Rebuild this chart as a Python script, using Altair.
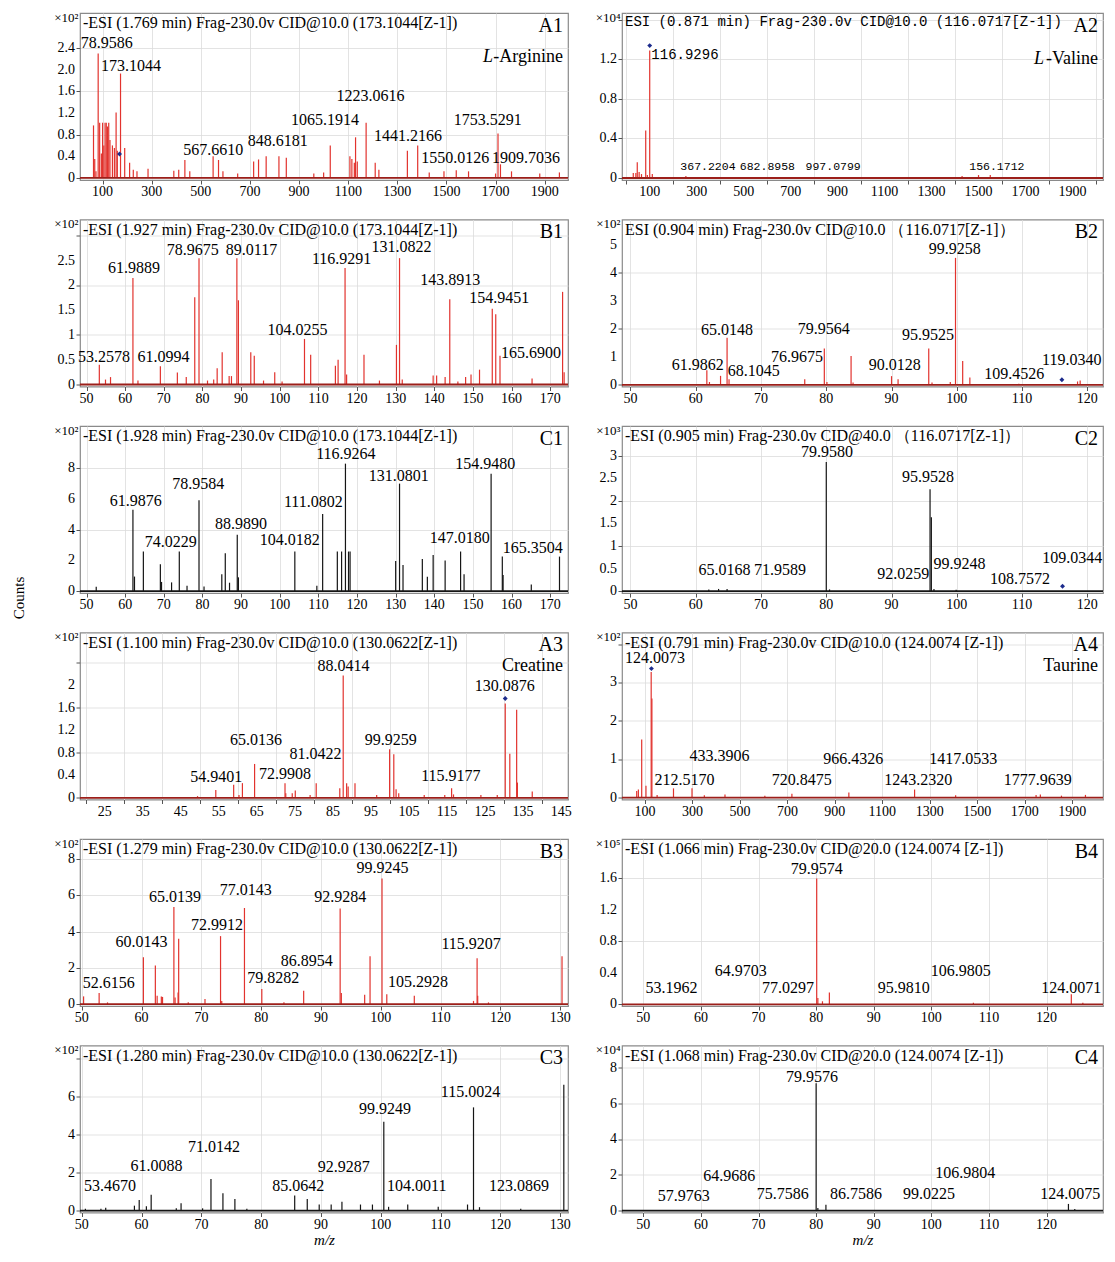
import math
import altair as alt
import pandas as pd

SERIF = "Liberation Serif"
MONO = "Liberation Mono"
RED = "#e2332e"
RED_BASE = "#9c1f1a"
BLACK = "#151515"
BLUE = "#1c2b8c"
GRID = "#dcdcdc"
TICK = "#555555"

# ---------------- data: (m/z, intensity) ----------------
A1_peaks = [(63,0.97),(68,0.35),(73,0.12),(82,2.30),(88,1.02),(95,0.45),(100,1.02),(105,0.60),(110,1.02),(115,1.02),(120,0.95),(125,1.02),(130,0.70),(140,0.60),(148,0.55),(155,1.21),(160,0.50),(173,1.93),(190,0.55),(210,0.28),(225,0.15),(240,0.12),(285,0.17),(390,0.13),(410,0.15),(435,0.33),(455,0.12),(550,0.40),(572,0.33),(590,0.12),(650,0.08),(715,0.30),(735,0.34),(766,0.40),(818,0.40),(848,0.37),(960,0.08),(1000,0.10),(1027,0.60),(1107,0.40),(1115,0.35),(1125,0.28),(1130,0.75),(1137,0.30),(1173,1.02),(1210,0.28),(1225,0.15),(1341,0.50),(1383,0.60),(1430,0.10),(1490,0.12),(1540,0.14),(1590,0.12),(1700,0.08),(1710,0.82),(1720,0.25),(1765,0.12),(1880,0.08),(1960,0.10)]
A1_labels = [("78.9586",117,2.50),("173.1044",216,2.07),("567.6610",551,0.52),("848.6181",813,0.69),("1065.1914",1006,1.07),("1223.0616",1191,1.52),("1441.2166",1344,0.78),("1753.5291",1668,1.07),("1550.0126",1536,0.36),("1909.7036",1824,0.36)]
A1_marker = [(169,0.44)]

A2_peaks = [(30,0.05),(41,0.05),(47,0.16),(55,0.06),(65,0.04),(83,0.48),(90,0.03),(100,1.29),(111,0.04),(254,0.02),(1430,0.02),(1500,0.03),(1550,0.03)]
A2_labels = [("116.9296",250,1.25),("367.2204",348,0.11),("682.8958",601,0.11),("997.0799",881,0.11),("156.1712",1578,0.11)]
A2_marker = [(100,1.34)]

B1_peaks = [(53.3,0.40),(54.9,0.10),(56.2,0.15),(62.0,2.15),(63.3,0.08),(69.1,0.37),(73.5,0.24),(75.8,0.15),(78.0,1.76),(79.1,2.55),(81.3,0.08),(82.9,0.10),(83.8,0.33),(85.1,0.65),(86.9,0.17),(87.5,0.17),(88.9,2.55),(89.3,1.70),(92.5,0.65),(93.4,0.58),(95.8,0.08),(98.7,0.25),(100.6,0.06),(106.4,0.92),(108.0,0.60),(114.4,0.38),(115.1,0.50),(116.9,2.35),(117.3,0.20),(121.8,0.60),(125.8,0.08),(130.2,0.80),(131.0,2.55),(131.7,0.10),(139.7,0.18),(140.6,0.18),(142.8,0.15),(144.0,1.72),(146.1,0.06),(148.1,0.15),(149.5,0.20),(151.7,0.30),(155.0,1.53),(155.9,1.42),(157.0,0.58),(165.3,0.12),(173.2,1.87),(173.6,0.25)]
B1_labels = [("53.2578",54.5,0.56),("61.0994",69.9,0.56),("61.9889",62.3,2.36),("78.9675",77.5,2.72),("89.0117",92.7,2.72),("104.0255",104.6,1.11),("116.9291",116.0,2.53),("131.0822",131.5,2.78),("143.8913",144.1,2.10),("154.9451",156.8,1.74),("165.6900",165.0,0.63)]
B1_marker = []

B2_peaks = [(52,0.03),(61.7,0.52),(62.1,0.10),(63.8,0.32),(64.8,1.68),(65.1,0.20),(76.7,0.20),(79.7,1.30),(80.1,0.10),(83.8,1.03),(84.1,0.08),(90.0,0.31),(91.0,0.20),(95.7,1.30),(96.2,0.08),(99.0,0.10),(99.8,4.53),(100.9,0.85),(102.0,0.26),(109.5,0.04),(118.5,0.12),(118.9,0.15)]
B2_labels = [("65.0148",64.8,1.94),("79.9564",79.6,1.98),("95.9525",95.6,1.78),("99.9258",99.7,4.86),("61.9862",60.3,0.71),("68.1045",68.9,0.50),("76.9675",75.5,1.00),("90.0128",90.5,0.71),("109.4526",108.8,0.38),("119.0340",117.6,0.88)]
B2_marker = [(116.1,0.18)]

C1_peaks = [(52.5,0.28),(62.0,5.30),(62.4,0.95),(64.7,2.58),(69.1,1.75),(69.4,0.60),(72.0,0.57),(74.0,2.58),(76.0,0.35),(79.1,5.92),(80.4,0.30),(85.0,1.10),(85.9,2.47),(87.0,0.55),(89.0,3.67),(89.3,0.90),(103.9,2.58),(109.6,0.35),(111.1,5.03),(114.9,2.58),(116.0,2.58),(117.0,8.30),(117.8,2.58),(118.2,2.58),(130.0,1.97),(131.0,7.00),(131.9,1.70),(136.9,2.10),(138.2,0.94),(139.7,2.36),(142.8,2.00),(146.8,2.58),(147.7,1.10),(154.7,7.65),(157.6,2.25),(157.8,1.05),(165.1,0.44),(172.4,2.25)]
C1_labels = [("61.9876",62.7,5.86),("74.0229",71.8,3.19),("78.9584",78.9,6.95),("88.9890",90.0,4.37),("104.0182",102.6,3.34),("111.0802",108.7,5.79),("116.9264",117.1,8.92),("131.0801",130.8,7.50),("147.0180",146.6,3.45),("154.9480",153.2,8.30),("165.3504",165.5,2.84)]
C1_marker = []

C2_peaks = [(62.0,0.04),(63.5,0.05),(64.8,0.05),(80.0,2.86),(80.5,0.04),(95.9,2.26),(96.1,1.64),(96.5,0.05),(99.9,0.03)]
C2_labels = [("79.9580",80.1,3.08),("95.9528",95.6,2.52),("65.0168",64.4,0.47),("71.9589",72.9,0.47),("92.0259",91.8,0.37),("99.9248",100.4,0.60),("108.7572",109.7,0.27),("109.0344",117.7,0.73)]
C2_marker = [(116.2,0.11)]

A3_peaks = [(49.4,0.03),(54.2,0.14),(58.9,0.23),(60.3,0.05),(61.2,0.26),(64.4,0.60),(72.4,0.26),(72.6,0.08),(74.3,0.08),(75.1,0.13),(79.0,0.05),(80.6,0.26),(86.8,0.17),(87.7,2.17),(88.6,0.26),(89.0,0.20),(90.8,0.26),(96.5,0.05),(99.9,0.86),(101.0,0.77),(101.6,0.15),(102.3,0.08),(109.0,0.05),(114.4,0.05),(116.2,0.17),(116.7,0.06),(123.9,0.05),(128.2,0.05),(130.3,1.67),(131.5,0.78),(133.3,1.56),(133.5,0.27),(137.4,0.11)]
A3_labels = [("88.0414",87.8,2.34),("130.0876",130.2,1.98),("65.0136",64.8,1.02),("81.0422",80.4,0.78),("99.9259",100.2,1.02),("54.9401",54.3,0.37),("72.9908",72.4,0.43),("115.9177",116.0,0.39)]
A3_marker = [(130.3,1.76)]

A4_peaks = [(65,0.17),(72,0.21),(86,1.51),(104,0.31),(126,3.27),(129,2.58),(151,0.07),(220,0.24),(298,0.24),(350,0.06),(437,0.08),(605,0.05),(719,0.10),(959,0.13),(1236,0.21),(1409,0.06),(1748,0.07),(1766,0.08),(1855,0.05),(1956,0.07)]
A4_labels = [("124.0073",142,3.64),("433.3906",414,1.09),("212.5170",266,0.46),("720.8475",761,0.46),("966.4326",977,1.01),("1243.2320",1251,0.46),("1417.0533",1441,1.01),("1777.9639",1755,0.46)]
A4_marker = [(127,3.36)]

B3_peaks = [(50.3,0.43),(52.9,0.61),(54.3,0.10),(60.3,2.59),(62.3,2.13),(62.6,0.46),(63.3,0.43),(63.5,0.40),(65.4,5.36),(65.6,0.37),(66.1,0.65),(66.2,3.60),(67.8,0.10),(70.6,0.28),(73.2,3.75),(73.4,0.18),(77.2,5.30),(80.1,0.83),(83.8,0.10),(87.1,0.74),(93.2,5.27),(93.4,0.61),(97.3,0.52),(98.2,2.64),(100.2,6.93),(101.0,0.55),(105.6,0.46),(115.5,0.18),(116.1,2.53),(116.2,0.46),(118.0,0.10),(130.3,2.64)]
B3_labels = [("52.6156",54.5,1.16),("60.0143",60.0,3.42),("65.0139",65.6,5.91),("72.9912",72.6,4.38),("77.0143",77.4,6.28),("79.8282",82.0,1.42),("86.8954",87.6,2.40),("92.9284",93.2,5.91),("99.9245",100.3,7.49),("105.2928",106.2,1.24),("115.9207",115.1,3.33)]
B3_marker = []

B4_peaks = [(80.1,1.60),(80.3,0.08),(81.1,0.04),(82.3,0.15),(107.3,0.02),(124.3,0.13),(126.3,0.02)]
B4_labels = [("79.9574",80.1,1.72),("64.9703",66.9,0.43),("53.1962",54.9,0.21),("77.0297",75.1,0.21),("95.9810",95.2,0.21),("106.9805",105.1,0.43),("124.0071",124.3,0.21)]
B4_marker = []

C3_peaks = [(50.6,0.10),(53.2,0.10),(54.0,0.15),(58.8,0.26),(59.6,0.56),(60.8,0.23),(61.6,0.84),(65.8,0.12),(66.6,0.39),(70.2,0.12),(71.6,1.67),(73.6,0.91),(75.6,0.61),(77.6,0.10),(85.6,0.79),(87.7,0.61),(89.7,0.32),(91.7,0.32),(93.5,0.47),(96.6,0.32),(98.6,0.32),(100.5,4.68),(101.3,0.20),(104.5,0.32),(109.6,0.20),(114.5,0.32),(115.5,5.44),(116.5,0.18),(123.4,0.10),(130.6,6.63)]
C3_labels = [("53.4670",54.7,1.28),("61.0088",62.5,2.33),("71.0142",72.1,3.33),("85.0642",86.2,1.28),("92.9287",93.8,2.28),("99.9249",100.7,5.35),("104.0011",106.0,1.32),("115.0024",115.0,6.23),("123.0869",123.1,1.28)]
C3_marker = []

C4_peaks = [(80.0,7.14),(80.3,0.15),(81.7,0.34),(123.8,0.38),(124.9,0.10)]
C4_labels = [("79.9576",79.3,7.48),("64.9686",64.9,1.97),("57.9763",57.0,0.85),("75.7586",74.2,0.94),("86.7586",86.9,0.94),("99.0225",99.6,0.94),("106.9804",105.9,2.10),("124.0075",124.1,0.94)]
C4_marker = []

HEADERS = {
    "A1": "-ESI (1.769 min) Frag-230.0v CID@10.0 (173.1044[Z-1])",
    "A2": "ESI  (0.871 min) Frag-230.0v CID@10.0 (116.0717[Z-1])",
    "B1": "-ESI (1.927 min) Frag-230.0v CID@10.0 (173.1044[Z-1])",
    "B2": "ESI (0.904 min) Frag-230.0v CID@10.0 （116.0717[Z-1]）",
    "C1": "-ESI (1.928 min) Frag-230.0v CID@10.0 (173.1044[Z-1])",
    "C2": "-ESI (0.905 min) Frag-230.0v CID@40.0 （116.0717[Z-1]）",
    "A3": "-ESI (1.100 min) Frag-230.0v CID@10.0 (130.0622[Z-1])",
    "A4": "-ESI (0.791 min) Frag-230.0v CID@10.0 (124.0074 [Z-1])",
    "B3": "-ESI (1.279 min) Frag-230.0v CID@10.0 (130.0622[Z-1])",
    "B4": "-ESI (1.066 min) Frag-230.0v CID@20.0 (124.0074 [Z-1])",
    "C3": "-ESI (1.280 min) Frag-230.0v CID@10.0 (130.0622[Z-1])",
    "C4": "-ESI (1.068 min) Frag-230.0v CID@20.0 (124.0074 [Z-1])",
}

LW = 488   # left column plot width
RW = 481   # right column plot width
H = 167    # plot height

# Times-like advance widths (per 1000 em) for placing the italic "L"
TW = {'-': 333, 'A': 722, 'r': 333, 'g': 500, 'i': 278, 'n': 500, 'e': 444, 'V': 722, 'a': 444, 'l': 278}


def frange(start, stop, step):
    out, k = [], 0
    while True:
        v = round(start + k * step, 6)
        if v > stop + 1e-9:
            break
        out.append(v)
        k += 1
    return out


def is_mult(v, start, step):
    q = (v - start) / step
    return abs(q - round(q)) < 1e-3


def ytxt(v, fmt):
    if v == 0:
        return "0"
    if fmt == ".1f":
        return f"{v:.1f}"
    return f"{v:g}"


def panel(pid, peaks, labels, marker, *, width, xdom, xlab0, xlabstep, xgrid,
          ydom, ylabstep, ylabmax, ygrid, yfmt, color, base_color, mult,
          name=None, italic_L=False, name_y=44, xtitle=None, counts=False,
          lfont=SERIF, lsize=16, emph=(), emph_size=16, hfont=SERIF, hsize=16):
    xall = frange(math.ceil(xdom[0] / xgrid - 1e-9) * xgrid, xdom[1], xgrid)
    xlab = [v for v in xall if is_mult(v, xlab0, xlabstep)]
    yall = frange(0, ydom[1], ygrid)
    ylab = [v for v in yall if is_mult(v, 0, ylabstep) and v <= ylabmax + 1e-6]

    xaxis_kw = dict(values=xall, labels=False, grid=True, gridColor=GRID, gridWidth=0.8,
                    tickSize=4, tickColor=TICK, domain=False)
    if xtitle:
        xaxis_kw.update(title=xtitle, titleFont=SERIF, titleFontStyle="italic", titleFontWeight="normal",
                        titleFontSize=15, titlePadding=15, titleColor="black")
    else:
        xaxis_kw.update(title=None)
    yaxis = alt.Axis(values=yall, labels=False, grid=True, gridColor=GRID, gridWidth=0.8,
                     tickSize=4, tickColor=TICK, domain=False,
                     title=mult, titleAngle=0, titleAlign="right", titleBaseline="middle",
                     titleX=-2, titleY=4, titleFont=SERIF, titleFontSize=13,
                     titleFontWeight="normal", titleColor="black")
    xs = alt.Scale(domain=list(xdom), nice=False, zero=False)
    ys = alt.Scale(domain=list(ydom), nice=False, zero=False)

    layers = []
    pk = pd.DataFrame(peaks, columns=["mz", "i"])
    layers.append(alt.Chart(pk).mark_rule(color=color, strokeWidth=1.2).encode(
        x=alt.X("mz:Q", scale=xs, axis=alt.Axis(**xaxis_kw)),
        y=alt.Y("i:Q", scale=ys, axis=yaxis),
        y2=alt.datum(0),
    ))
    layers.append(alt.Chart(pd.DataFrame({"k": [0]})).mark_rule(color=base_color, strokeWidth=1.8).encode(
        x=alt.value(0), x2=alt.value(width), y=alt.datum(0)))

    # tick labels drawn as text so every one of them shows
    xl = pd.DataFrame({"mz": xlab, "t": [str(int(round(v))) for v in xlab]})
    layers.append(alt.Chart(xl).mark_text(font=SERIF, fontSize=14, baseline="top", align="center",
                                          color="black").encode(
        x="mz:Q", y=alt.value(H + 5), text="t:N"))
    yl = pd.DataFrame({"i": ylab, "t": [ytxt(v, yfmt) for v in ylab]})
    layers.append(alt.Chart(yl).mark_text(font=SERIF, fontSize=14, baseline="middle", align="right",
                                          color="black").encode(
        y="i:Q", x=alt.value(-5), text="t:N"))

    lb = pd.DataFrame(labels, columns=["t", "mz", "i"])
    lb_norm = lb[~lb["t"].isin(emph)]
    lb_emph = lb[lb["t"].isin(emph)]
    layers.append(alt.Chart(lb_norm).mark_text(font=lfont, fontSize=lsize, color="black").encode(
        x="mz:Q", y="i:Q", text="t:N"))
    if len(lb_emph):
        layers.append(alt.Chart(lb_emph).mark_text(font=lfont, fontSize=emph_size, color="black").encode(
            x="mz:Q", y="i:Q", text="t:N"))
    if marker:
        mk = pd.DataFrame(marker, columns=["mz", "i"])
        layers.append(alt.Chart(mk).mark_point(shape="diamond", filled=True, size=24, color=BLUE, opacity=1).encode(
            x="mz:Q", y="i:Q"))
    layers.append(alt.Chart(pd.DataFrame({"t": [HEADERS[pid]]})).mark_text(
        align="left", baseline="top", font=hfont, fontSize=hsize, color="black").encode(
        x=alt.value(3), y=alt.value(2), text="t:N"))
    layers.append(alt.Chart(pd.DataFrame({"t": [pid]})).mark_text(
        align="right", baseline="middle", font=SERIF, fontSize=20, color="black").encode(
        x=alt.value(width - 5), y=alt.value(12.5), text="t:N"))
    if name:
        nsize = 18
        if italic_L:
            wrest = sum(TW.get(c, 500) for c in name) * nsize / 1000.0
            layers.append(alt.Chart(pd.DataFrame({"t": [name]})).mark_text(
                align="right", baseline="middle", font=SERIF, fontSize=nsize, color="black").encode(
                x=alt.value(width - 5), y=alt.value(name_y), text="t:N"))
            layers.append(alt.Chart(pd.DataFrame({"t": ["L"]})).mark_text(
                align="right", baseline="middle", font=SERIF, fontSize=nsize, fontStyle="italic", color="black").encode(
                x=alt.value(width - 5 - wrest), y=alt.value(name_y), text="t:N"))
        else:
            layers.append(alt.Chart(pd.DataFrame({"t": [name]})).mark_text(
                align="right", baseline="middle", font=SERIF, fontSize=nsize, color="black").encode(
                x=alt.value(width - 5), y=alt.value(name_y), text="t:N"))
    if counts:
        layers.append(alt.Chart(pd.DataFrame({"t": ["Counts"]})).mark_text(
            angle=270, align="center", baseline="middle", font=SERIF, fontSize=15, color="black").encode(
            x=alt.value(-61), y=alt.value(H + 5), text="t:N"))
    return alt.layer(*layers).properties(width=width, height=H)


BIG = dict(xlab0=100, xlabstep=200, xgrid=100)
SMALL = dict(xlab0=50, xlabstep=10, xgrid=5)

pA1 = panel("A1", A1_peaks, A1_labels, A1_marker, width=LW, xdom=(8, 1995), **BIG,
            ydom=(-0.04, 3.05), ylabstep=0.4, ylabmax=2.4, ygrid=0.2, yfmt=".1f",
            color=RED, base_color=RED_BASE, mult="×10²", name="-Arginine", italic_L=True, name_y=44)
pB1 = panel("B1", B1_peaks, B1_labels, B1_marker, width=LW, xdom=(48.3, 174.6), **SMALL,
            ydom=(-0.04, 3.33), ylabstep=0.5, ylabmax=2.5, ygrid=0.25, yfmt="~g",
            color=RED, base_color=RED_BASE, mult="×10²")
pC1 = panel("C1", C1_peaks, C1_labels, C1_marker, width=LW, xdom=(48.3, 174.6), **SMALL,
            ydom=(-0.12, 10.75), ylabstep=2, ylabmax=8, ygrid=1, yfmt="~g",
            color=BLACK, base_color=BLACK, mult="×10²", counts=True)
pA3 = panel("A3", A3_peaks, A3_labels, A3_marker, width=LW, xdom=(18.5, 146.8),
            xlab0=25, xlabstep=10, xgrid=5,
            ydom=(-0.03, 2.93), ylabstep=0.4, ylabmax=2.0, ygrid=0.2, yfmt="~g",
            color=RED, base_color=RED_BASE, mult="×10²", name="Creatine", name_y=33)
pB3 = panel("B3", B3_peaks, B3_labels, B3_marker, width=LW, xdom=(49.7, 131.3), **SMALL,
            ydom=(-0.1, 9.1), ylabstep=2, ylabmax=8, ygrid=1, yfmt="~g",
            color=RED, base_color=RED_BASE, mult="×10²")
pC3 = panel("C3", C3_peaks, C3_labels, C3_marker, width=LW, xdom=(49.7, 131.3), **SMALL,
            ydom=(-0.1, 8.7), ylabstep=2, ylabmax=6, ygrid=1, yfmt="~g",
            color=BLACK, base_color=BLACK, mult="×10²", xtitle="m/z")

pA2 = panel("A2", A2_peaks, A2_labels, A2_marker, width=RW, xdom=(-18, 2030), **BIG,
            ydom=(-0.02, 1.67), ylabstep=0.4, ylabmax=1.2, ygrid=0.2, yfmt="~g",
            color=RED, base_color=RED_BASE, mult="×10⁴", name="-Valine", italic_L=True, name_y=46,
            lfont=MONO, lsize=11.5, emph=("116.9296",), emph_size=14, hfont=MONO, hsize=14)
pB2 = panel("B2", B2_peaks, B2_labels, B2_marker, width=RW, xdom=(48.7, 122.4), **SMALL,
            ydom=(-0.06, 5.9), ylabstep=1, ylabmax=5, ygrid=0.5, yfmt="~g",
            color=RED, base_color=RED_BASE, mult="×10²")
pC2 = panel("C2", C2_peaks, C2_labels, C2_marker, width=RW, xdom=(48.7, 122.4), **SMALL,
            ydom=(-0.04, 3.66), ylabstep=0.5, ylabmax=3, ygrid=0.25, yfmt="~g",
            color=BLACK, base_color=BLACK, mult="×10³")
pA4 = panel("A4", A4_peaks, A4_labels, A4_marker, width=RW, xdom=(3, 2030), **BIG,
            ydom=(-0.05, 4.3), ylabstep=1, ylabmax=3, ygrid=0.5, yfmt="~g",
            color=RED, base_color=RED_BASE, mult="×10²", name="Taurine", name_y=33)
pB4 = panel("B4", B4_peaks, B4_labels, B4_marker, width=RW, xdom=(46.3, 129.8), **SMALL,
            ydom=(-0.02, 2.1), ylabstep=0.4, ylabmax=1.6, ygrid=0.2, yfmt="~g",
            color=RED, base_color=RED_BASE, mult="×10⁵")
pC4 = panel("C4", C4_peaks, C4_labels, C4_marker, width=RW, xdom=(46.3, 129.8), **SMALL,
            ydom=(-0.1, 9.25), ylabstep=2, ylabmax=8, ygrid=1, yfmt="~g",
            color=BLACK, base_color=BLACK, mult="×10⁴", xtitle="m/z")

left = alt.vconcat(pA1, pB1, pC1, pA3, pB3, pC3, spacing=39.5, bounds="flush")
right = alt.vconcat(pA2, pB2, pC2, pA4, pB4, pC4, spacing=39.5, bounds="flush")

chart = alt.hconcat(left, right, spacing=21).properties(
    padding={"left": 3, "top": 2, "right": 0, "bottom": 0},
).configure_view(stroke="#8a8a8a", strokeWidth=1.2)

chart.save("out.html", embed_options={"renderer": "svg", "actions": False})
